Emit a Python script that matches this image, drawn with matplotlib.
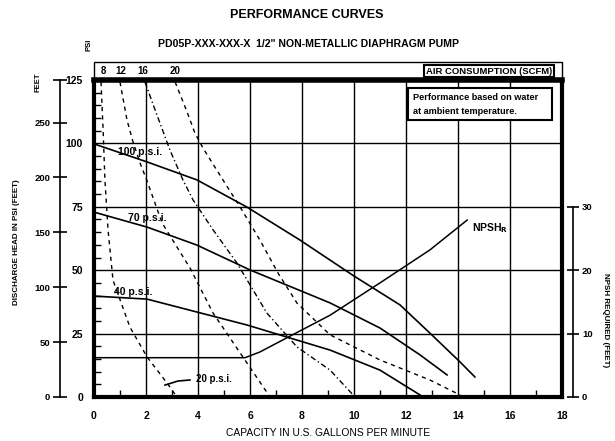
import matplotlib.pyplot as plt
from matplotlib.patches import Rectangle
from matplotlib.ticker import MultipleLocator

plt.rcParams['font.family'] = ['Liberation Sans', 'DejaVu Sans']
plt.rcParams['font.weight'] = 'bold'

# discharge pressure (psi) vs capacity (gpm), one curve per air inlet pressure
p100_gpm = [0, 2.04, 3.96, 5.88, 7.92, 10.0, 11.77, 12.92, 14.08, 14.65]
p100_psi = [99.8, 92.7, 85.6, 74.9, 61.9, 47.7, 36.3, 25.2, 13.8, 7.9]
p70_gpm = [0, 2.04, 3.96, 6.0, 9.08, 11.0, 12.54, 13.58]
p70_psi = [72.9, 67.0, 59.9, 50.1, 37.1, 27.2, 16.6, 8.7]
p40_gpm = [0, 2.04, 3.96, 5.88, 9.08, 11.0, 12.54]
p40_psi = [39.8, 38.6, 33.5, 28.4, 18.5, 10.6, 0.8]
p20_gpm = [2.73, 3.23, 3.69]
p20_psi = [4.7, 6.3, 6.7]

# air consumption lines (scfm)
air_labels = ["8", "12", "16", "20"]
air8_gpm = [0.27, 0.35, 0.42, 0.54, 0.73, 1.38, 2.04, 2.81, 3.19]
air8_psi = [124.2, 105.3, 85.6, 65.9, 46.1, 27.6, 15.8, 5.5, 0]
air12_gpm = [1.0, 1.27, 1.5, 1.77, 2.04, 2.62, 3.69, 4.58, 5.62, 6.46, 6.77]
air12_psi = [124.2, 109.2, 100.6, 92.3, 85.2, 68.6, 50.9, 33.1, 17.4, 4.7, 0]
air16_gpm = [1.96, 2.35, 2.92, 3.42, 3.81, 4.58, 5.5, 6.65, 7.81, 9.08, 10.04]
air16_psi = [124.2, 113.2, 97.4, 85.6, 77.7, 65.9, 52.8, 33.1, 19.7, 10.6, 0]
air20_gpm = [3.12, 3.58, 3.88, 4.19, 4.96, 5.62, 6.38, 7.1, 7.81, 9.08, 11.0, 12.92, 14.08]
air20_psi = [124.2, 112.4, 104.1, 98.2, 85.6, 74.9, 61.9, 48.5, 37.0, 24.5, 14.6, 6.7, 0.8]

# NPSHr (feet) vs capacity
npsh_gpm = [0, 5.81, 6.38, 7.54, 9.08, 11.0, 12.92, 14.35]
npsh_ft = [6.2, 6.2, 7.1, 9.6, 12.9, 18.0, 23.2, 27.9]

feet_ticks = [0, 50, 100, 150, 200, 250]
npsh_ticks = [0, 10, 20, 30]

W, H = 615, 441


def px(x, y):
    return x / W, 1 - y / H


fig = plt.figure(figsize=(6.15, 4.41), dpi=100)
x0, y0 = px(94, 397)
x1, y1 = px(562, 80)
ax = fig.add_axes([x0, y0, x1 - x0, y1 - y0])
ax.set_xlim(0, 18)
ax.set_ylim(0, 125)

ax.plot(p100_gpm, p100_psi, color="black", lw=1.2)
ax.plot(p70_gpm, p70_psi, color="black", lw=1.2)
ax.plot(p40_gpm, p40_psi, color="black", lw=1.2)
ax.plot(p20_gpm, p20_psi, color="black", lw=1.2)

ax.plot(air8_gpm, air8_psi, color="black", lw=1, ls=(0, (3, 3)))
ax.plot(air12_gpm, air12_psi, color="black", lw=1, ls=(0, (3, 3)))
ax.plot(air16_gpm, air16_psi, color="black", lw=1, ls=(0, (4, 2, 1, 2)))
ax.plot(air20_gpm, air20_psi, color="black", lw=1, ls=(0, (3, 3)))

ax2 = ax.twinx()
ax2.set_ylim(0, 50)
ax2.axis("off")
ax2.plot(npsh_gpm, npsh_ft, color="black", lw=1.1)

ax.set_xticks(range(0, 19, 2))
ax.set_yticks(range(0, 126, 25))
ax.xaxis.set_minor_locator(MultipleLocator(1))
ax.yaxis.set_minor_locator(MultipleLocator(5))
ax.grid(True, which="major", color="black", lw=1)
ax.tick_params(axis="x", which="major", length=0, pad=10, labelsize=7.5)
ax.tick_params(axis="x", which="minor", direction="in", length=5, width=1)
ax.tick_params(axis="y", which="major", length=0, pad=8, labelsize=7.5)
ax.tick_params(axis="y", which="minor", direction="in", length=5, width=1)
for s in ["left", "bottom", "right"]:
    ax.spines[s].set_linewidth(3)
ax.spines["top"].set_linewidth(4)

ax.set_xlabel("CAPACITY IN U.S. GALLONS PER MINUTE", fontsize=7.4, labelpad=5)

# curve labels
ax.text(1.77, 96.6, "100 p.s.i.", fontsize=7.5, ha="center", va="center")
ax.text(2.05, 70.6, "70 p.s.i.", fontsize=7.5, ha="center", va="center")
ax.text(1.5, 41.6, "40 p.s.i.", fontsize=7.5, ha="center", va="center")
ax.text(4.6, 7.0, "20 p.s.i.", fontsize=7, ha="center", va="center")
ax.text(14.54, 66.6, "NPSH$_\\mathbf{R}$", fontsize=7.5, ha="left", va="center")

# outer feet scale
lx = 60 / W
ax_l = fig.add_axes([lx, y0, 0.0001, y1 - y0])
ax_l.set_ylim(0, 125 * 2.31)
ax_l.patch.set_visible(False)
for s in ["top", "bottom", "right"]:
    ax_l.spines[s].set_visible(False)
ax_l.spines["left"].set_linewidth(1.2)
ax_l.set_xticks([])
ax_l.set_yticks(feet_ticks + [125 * 2.31])
ax_l.set_yticklabels([str(v) for v in feet_ticks] + [""])
ax_l.tick_params(axis="y", direction="inout", length=10, width=1.2, labelsize=6.8, pad=2)

# NPSH scale on the right
rx = 573 / W
ax_r = fig.add_axes([rx, y0, 0.0001, y1 - y0])
ax_r.set_ylim(0, 50)
ax_r.patch.set_visible(False)
for s in ["top", "bottom", "right"]:
    ax_r.spines[s].set_visible(False)
ax_r.spines["left"].set_bounds(0, 30)
ax_r.spines["left"].set_linewidth(1.2)
ax_r.set_xticks([])
ax_r.yaxis.tick_right()
ax_r.set_yticks(npsh_ticks)
ax_r.set_yticklabels([str(v) for v in npsh_ticks])
ax_r.tick_params(axis="y", direction="inout", length=9, width=1.2, labelsize=6.8, pad=2)

# titles and axis words
fig.text(*px(307, 15), "PERFORMANCE CURVES", fontsize=9, ha="center", va="center")
fig.text(*px(309, 44), "PD05P-XXX-XXX-X  1/2\" NON-METALLIC DIAPHRAGM PUMP",
         fontsize=7.6, ha="center", va="center")
fig.text(*px(17, 242), "DISCHARGE HEAD IN PSI (FEET)", fontsize=5.8,
         rotation=90, ha="center", va="center")
fig.text(*px(38, 82), "FEET", fontsize=5.5, rotation=90, ha="center", va="center")
fig.text(*px(89, 45), "PSI", fontsize=5.5, rotation=90, ha="center", va="center")
fig.text(*px(606, 320), "NPSH REQUIRED (FEET)", fontsize=5.8,
         rotation=270, ha="center", va="center")

# band above the plot with air consumption values
bx, by = px(94, 80)
fig.add_artist(Rectangle((bx, by), 468 / W, 18 / H, transform=fig.transFigure,
                         fill=False, ec="black", lw=1))
air_x = [103, 121, 143, 175]
for xv, lab in zip(air_x, air_labels):
    fig.text(*px(xv, 71), lab, fontsize=7, ha="center", va="center")
fig.text(*px(489, 71), "AIR CONSUMPTION (SCFM)", fontsize=6.8, ha="center", va="center",
         bbox=dict(boxstyle="square,pad=0.15", fc="white", ec="black", lw=1.5))

# note box
nx, ny = px(408, 120)
fig.add_artist(Rectangle((nx, ny), 144 / W, 32 / H, transform=fig.transFigure,
                         fc="white", ec="black", lw=1.5, zorder=5))
fig.text(*px(413, 97), "Performance based on water", fontsize=6.6, ha="left",
         va="center", zorder=6)
fig.text(*px(413, 111), "at ambient temperature.", fontsize=6.6, ha="left",
         va="center", zorder=6)

fig.savefig("out.png", dpi=100)
